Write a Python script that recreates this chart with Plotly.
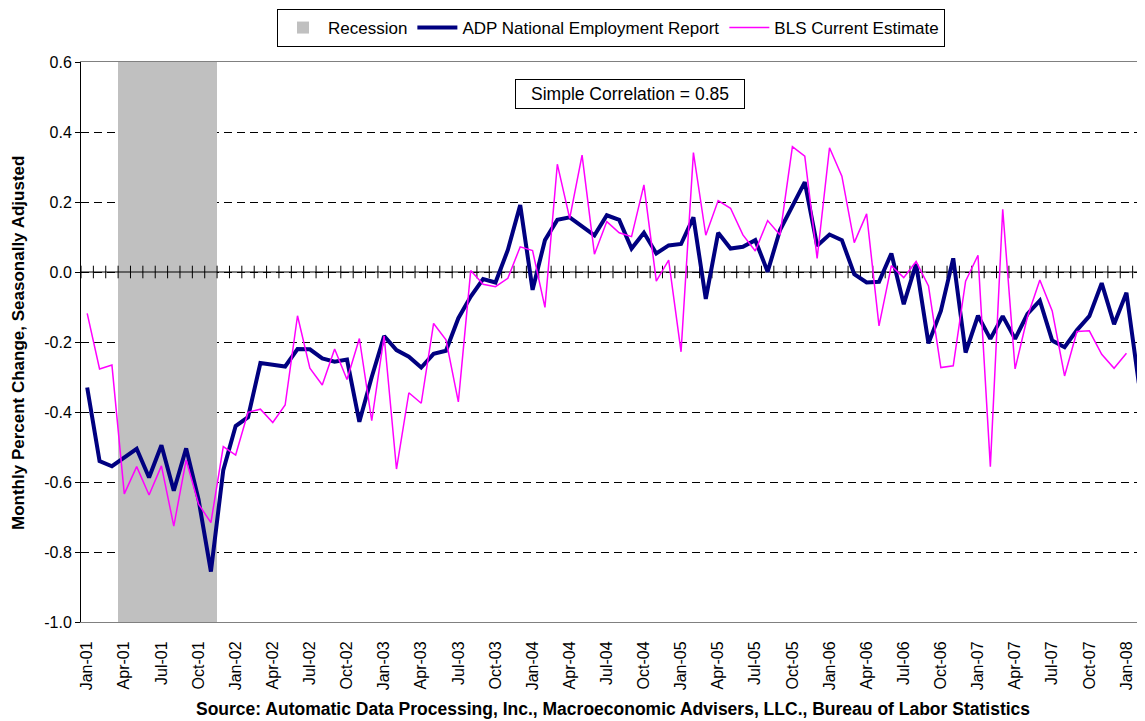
import pandas as pd
import plotly.graph_objects as go

# ---------------- data ----------------
months = pd.date_range("2001-01-01", "2008-02-01", freq="MS").strftime("%b-%y").tolist()

adp = [-0.33, -0.54, -0.555, -0.53, -0.505, -0.587, -0.495, -0.625, -0.504, -0.65,
       -0.856, -0.566, -0.44, -0.415, -0.26, -0.265, -0.27, -0.22, -0.221, -0.247,
       -0.256, -0.25, -0.428, -0.30, -0.183, -0.223, -0.242, -0.273, -0.234, -0.225,
       -0.132, -0.07, -0.02, -0.03, 0.063, 0.191, -0.051, 0.091, 0.149, 0.156,
       0.13, 0.105, 0.162, 0.149, 0.067, 0.112, 0.053, 0.076, 0.08, 0.156,
       -0.077, 0.112, 0.067, 0.072, 0.091, 0.001, 0.12, 0.191, 0.257, 0.075,
       0.107, 0.091, -0.006, -0.03, -0.028, 0.053, -0.092, 0.023, -0.204, -0.111,
       0.039, -0.23, -0.125, -0.191, -0.126, -0.191, -0.12, -0.082, -0.196, -0.215,
       -0.166, -0.126, -0.032, -0.149, -0.059, -0.318]

bls = [-0.118, -0.277, -0.266, -0.634, -0.556, -0.637, -0.554, -0.726, -0.537, -0.663,
       -0.716, -0.499, -0.523, -0.401, -0.392, -0.43, -0.38, -0.125, -0.275, -0.323,
       -0.22, -0.307, -0.19, -0.425, -0.183, -0.563, -0.345, -0.375, -0.147, -0.194,
       -0.371, 0.004, -0.035, -0.042, -0.018, 0.072, 0.061, -0.101, 0.308, 0.153,
       0.334, 0.051, 0.144, 0.112, 0.101, 0.249, -0.026, 0.034, -0.228, 0.341,
       0.105, 0.204, 0.182, 0.106, 0.06, 0.147, 0.106, 0.358, 0.331, 0.039,
       0.355, 0.274, 0.084, 0.166, -0.154, 0.018, -0.016, 0.03, -0.04, -0.273,
       -0.268, -0.026, 0.048, -0.556, 0.179, -0.277, -0.128, -0.023, -0.111, -0.297,
       -0.17, -0.168, -0.235, -0.275, -0.232]

recession_start = "Apr-01"
recession_end = "Nov-01"

y_ticks = [-1.0, -0.8, -0.6, -0.4, -0.2, 0.0, 0.2, 0.4, 0.6]
y_min, y_max = y_ticks[0], y_ticks[-1]
correlation_text = "Simple Correlation = 0.85"

# ---------------- figure ----------------
FONT = "Liberation Sans, Arial, sans-serif"
x_idx = list(range(len(months)))
r0, r1 = months.index(recession_start), months.index(recession_end)
rec_y = [(y_max - y_min) if r0 <= i <= r1 else None for i in x_idx]

fig = go.Figure()

fig.add_trace(go.Bar(
    x=x_idx, y=rec_y, base=y_min, width=1.0, name="Recession",
    marker=dict(color="#C0C0C0", line=dict(width=0)), hoverinfo="skip",
))

# zero axis with tick marks between categories (Excel-style crossing axis)
bounds = [i - 0.5 for i in range(len(months) + 1)]
fig.add_trace(go.Scatter(
    x=bounds, y=[0] * len(bounds), mode="lines+markers", showlegend=False,
    hoverinfo="skip", line=dict(color="black", width=1),
    marker=dict(symbol="line-ns", size=9, line=dict(color="black", width=1)),
))

fig.add_trace(go.Scatter(
    x=x_idx[:len(adp)], y=adp, mode="lines", name="ADP National Employment Report",
    line=dict(color="#000080", width=4),
))
fig.add_trace(go.Scatter(
    x=x_idx[:len(bls)], y=bls, mode="lines", name="BLS Current Estimate",
    line=dict(color="#FF00FF", width=1.5),
))

# page layout (page pixels); the page body adds an 8px offset
OFF = 8
VW, VH = 1145, 721
PL, PT, PR, PB = 81, 62, 1145, 622          # plot area in page pixels
W, H = VW - OFF, VH - OFF
L, T = PL - OFF, PT - OFF
R = W - (PR - OFF)
B = H - (PB - OFF)
pw, ph = W - L - R, H - T - B

def px_x(p):
    return (p - PL) / pw

def px_y(p):
    return (PB - p) / ph

fig.update_layout(
    width=W, height=H,
    margin=dict(l=L, r=R, t=T, b=B, autoexpand=False),
    plot_bgcolor="white", paper_bgcolor="white",
    font=dict(family=FONT, size=16, color="black"),
    showlegend=True,
    legend=dict(
        orientation="h", x=px_x(611), xanchor="center", y=px_y(9), yanchor="top",
        bordercolor="black", borderwidth=1, font=dict(size=17),
        itemwidth=40, tracegroupgap=0,
    ),
    bargap=0,
    xaxis=dict(
        range=[-0.5, len(months) - 0.5],
        tickmode="array", tickvals=x_idx[::3], ticktext=months[::3],
        tickangle=-90, ticks="outside", ticklen=12, tickcolor="rgba(0,0,0,0)",
        showgrid=False, zeroline=False, automargin=False,
        showline=True, linecolor="#808080", linewidth=1, mirror=True,
        tickfont=dict(size=16),
    ),
    yaxis=dict(
        range=[y_min, y_max], tickmode="array", tickvals=y_ticks,
        ticktext=[f"{v:.1f}" for v in y_ticks],
        ticks="outside", ticklen=5, tickcolor="black", automargin=False,
        showgrid=True, gridcolor="black", gridwidth=1, griddash="8px,5px",
        zeroline=False, showline=True, linecolor="black", linewidth=1,
        tickfont=dict(size=16),
    ),
    annotations=[
        dict(text=correlation_text, xref="paper", yref="paper",
             x=px_x(630), y=px_y(94), xanchor="center", yanchor="middle",
             showarrow=False, bordercolor="black", borderwidth=1, borderpad=0,
             width=228, height=28, bgcolor="white", font=dict(size=17.5)),
        dict(text="<b>Monthly Percent Change, Seasonally Adjusted</b>",
             xref="paper", yref="paper", x=px_x(18), y=px_y(343),
             xanchor="center", yanchor="middle", textangle=-90, showarrow=False,
             font=dict(size=17)),
        dict(text="<b>Source: Automatic Data Processing, Inc., Macroeconomic Advisers, LLC., Bureau of Labor Statistics</b>",
             xref="paper", yref="paper", x=px_x(613), y=px_y(709),
             xanchor="center", yanchor="middle", showarrow=False,
             font=dict(size=17.5)),
    ],
)

fig.write_html("out.html")
